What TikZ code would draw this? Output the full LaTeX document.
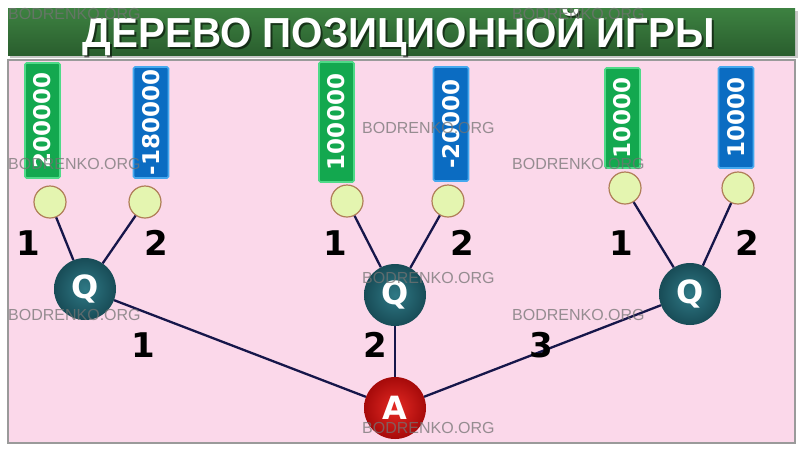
\documentclass[tikz,border=0pt]{standalone}
\usepackage{fontspec}
\setmainfont{DejaVu Sans}
\newfontfamily\titlefont{Liberation Sans}
\newfontfamily\wmfont{Liberation Sans}
\usetikzlibrary{calc}
\definecolor{titletop}{HTML}{3D8241}
\definecolor{titlebot}{HTML}{2A5E2E}
\definecolor{panelpink}{HTML}{FBD8EA}
\definecolor{panelborder}{HTML}{9A9A9A}
\definecolor{gfill}{HTML}{13A84F}
\definecolor{gedge}{HTML}{4FDA88}
\definecolor{bfill}{HTML}{0B6CC2}
\definecolor{bedge}{HTML}{45A8EE}
\definecolor{leaffill}{HTML}{E4F5B0}
\definecolor{leafedge}{HTML}{B07E58}
\definecolor{qlight}{HTML}{2F7985}
\definecolor{qdark}{HTML}{184C57}
\definecolor{alight}{HTML}{E52A24}
\definecolor{adark}{HTML}{A60A0A}
\definecolor{edgecol}{HTML}{16164A}
\begin{document}
\begin{tikzpicture}[x=1pt,y=-1pt,
  valbox/.style={rotate=90, rounded corners=1.5pt, line width=1.6pt, text=white,
    inner sep=0pt, minimum height=35pt, font=\bfseries\fontsize{23}{23}\selectfont},
  valg/.style={valbox, fill=gfill, draw=gedge},
  valb/.style={valbox, fill=bfill, draw=bedge},
  leaf/.style={circle, inner sep=0pt, minimum size=32pt, fill=leaffill, draw=leafedge, line width=1.2pt},
  qnode/.style={circle, inner sep=0pt, minimum size=62pt, inner color=qlight, outer color=qdark,
    text=white, font=\bfseries\fontsize{32}{32}\selectfont},
  anode/.style={circle, inner sep=0pt, minimum size=62pt, inner color=alight, outer color=adark,
    text=white, font=\bfseries\fontsize{32}{32}\selectfont},
  elabel/.style={text=black, inner sep=0pt, font=\bfseries\fontsize{34}{34}\selectfont},
  conn/.style={draw=edgecol, line width=2.3pt},
  wm/.style={anchor=west, inner sep=0pt, text=black!55, opacity=0.75, font=\wmfont\fontsize{16}{16}\selectfont}
]
\useasboundingbox (0,0) rectangle (802,451);
\fill[white] (0,0) rectangle (802,451);
% title bar
\fill[black!22] (10,11) rectangle (798,58);
\shade[top color=titletop, bottom color=titlebot] (8,8) rectangle (795,55);
\node[text=black, opacity=0.55, font=\titlefont\bfseries\fontsize{42}{42}\selectfont] (titleshadow) at (401,35)
  {\scalebox{0.96}[1]{ДЕРЕВО ПОЗИЦИОННОЙ ИГРЫ}};
\node[text=white, font=\titlefont\bfseries\fontsize{42}{42}\selectfont] (title) at (399,33)
  {\scalebox{0.96}[1]{ДЕРЕВО ПОЗИЦИОННОЙ ИГРЫ}};
% panel
\draw[draw=panelborder, fill=panelpink, line width=1.3pt] (8,60) rectangle (795,443);

% value boxes
\node[valg, minimum width=115pt] (b1) at (42.5,120.5) {200000};
\node[valb, minimum width=111pt] (b2) at (151,122.5) {-180000};
\node[valg, minimum width=120pt] (b3) at (336.5,122) {100000};
\node[valb, minimum width=114pt] (b4) at (451,124) {-20000};
\node[valg, minimum width=100pt] (b5) at (622.5,118) {10000};
\node[valb, minimum width=101pt] (b6) at (736,117.5) {10000};

% leaves
\node[leaf] (l1) at (50,202) {};
\node[leaf] (l2) at (145,202) {};
\node[leaf] (l3) at (347,201) {};
\node[leaf] (l4) at (448,201) {};
\node[leaf] (l5) at (625,188) {};
\node[leaf] (l6) at (738,188) {};

% Q and A nodes
\node[qnode] (q1) at (85,289) {Q};
\node[qnode] (q2) at (395,295) {Q};
\node[qnode] (q3) at (690,294) {Q};
\node[anode] (a) at (395,408) {A};

% connectors
\draw[conn] (l1) -- (q1);
\draw[conn] (l2) -- (q1);
\draw[conn] (l3) -- (q2);
\draw[conn] (l4) -- (q2);
\draw[conn] (l5) -- (q3);
\draw[conn] (l6) -- (q3);
\draw[conn] (q1) -- (a);
\draw[conn] (q2) -- (a);
\draw[conn] (q3) -- (a);

% edge labels
\node[elabel] (e11) at (28,243) {1};
\node[elabel] (e12) at (156,243) {2};
\node[elabel] (e21) at (335,243) {1};
\node[elabel] (e22) at (462,243) {2};
\node[elabel] (e31) at (621,243) {1};
\node[elabel] (e32) at (747,243) {2};
\node[elabel] (ea1) at (143,345) {1};
\node[elabel] (ea2) at (375,345) {2};
\node[elabel] (ea3) at (541,345) {3};

% watermarks
\node[wm] (w1) at (8,14) {BODRENKO.ORG};
\node[wm] (w2) at (512,14) {BODRENKO.ORG};
\node[wm] (w3) at (362,128) {BODRENKO.ORG};
\node[wm] (w4) at (8,164) {BODRENKO.ORG};
\node[wm] (w5) at (512,164) {BODRENKO.ORG};
\node[wm] (w6) at (362,278) {BODRENKO.ORG};
\node[wm] (w7) at (8,315) {BODRENKO.ORG};
\node[wm] (w8) at (512,315) {BODRENKO.ORG};
\node[wm] (w9) at (362,428) {BODRENKO.ORG};
\end{tikzpicture}
\end{document}
